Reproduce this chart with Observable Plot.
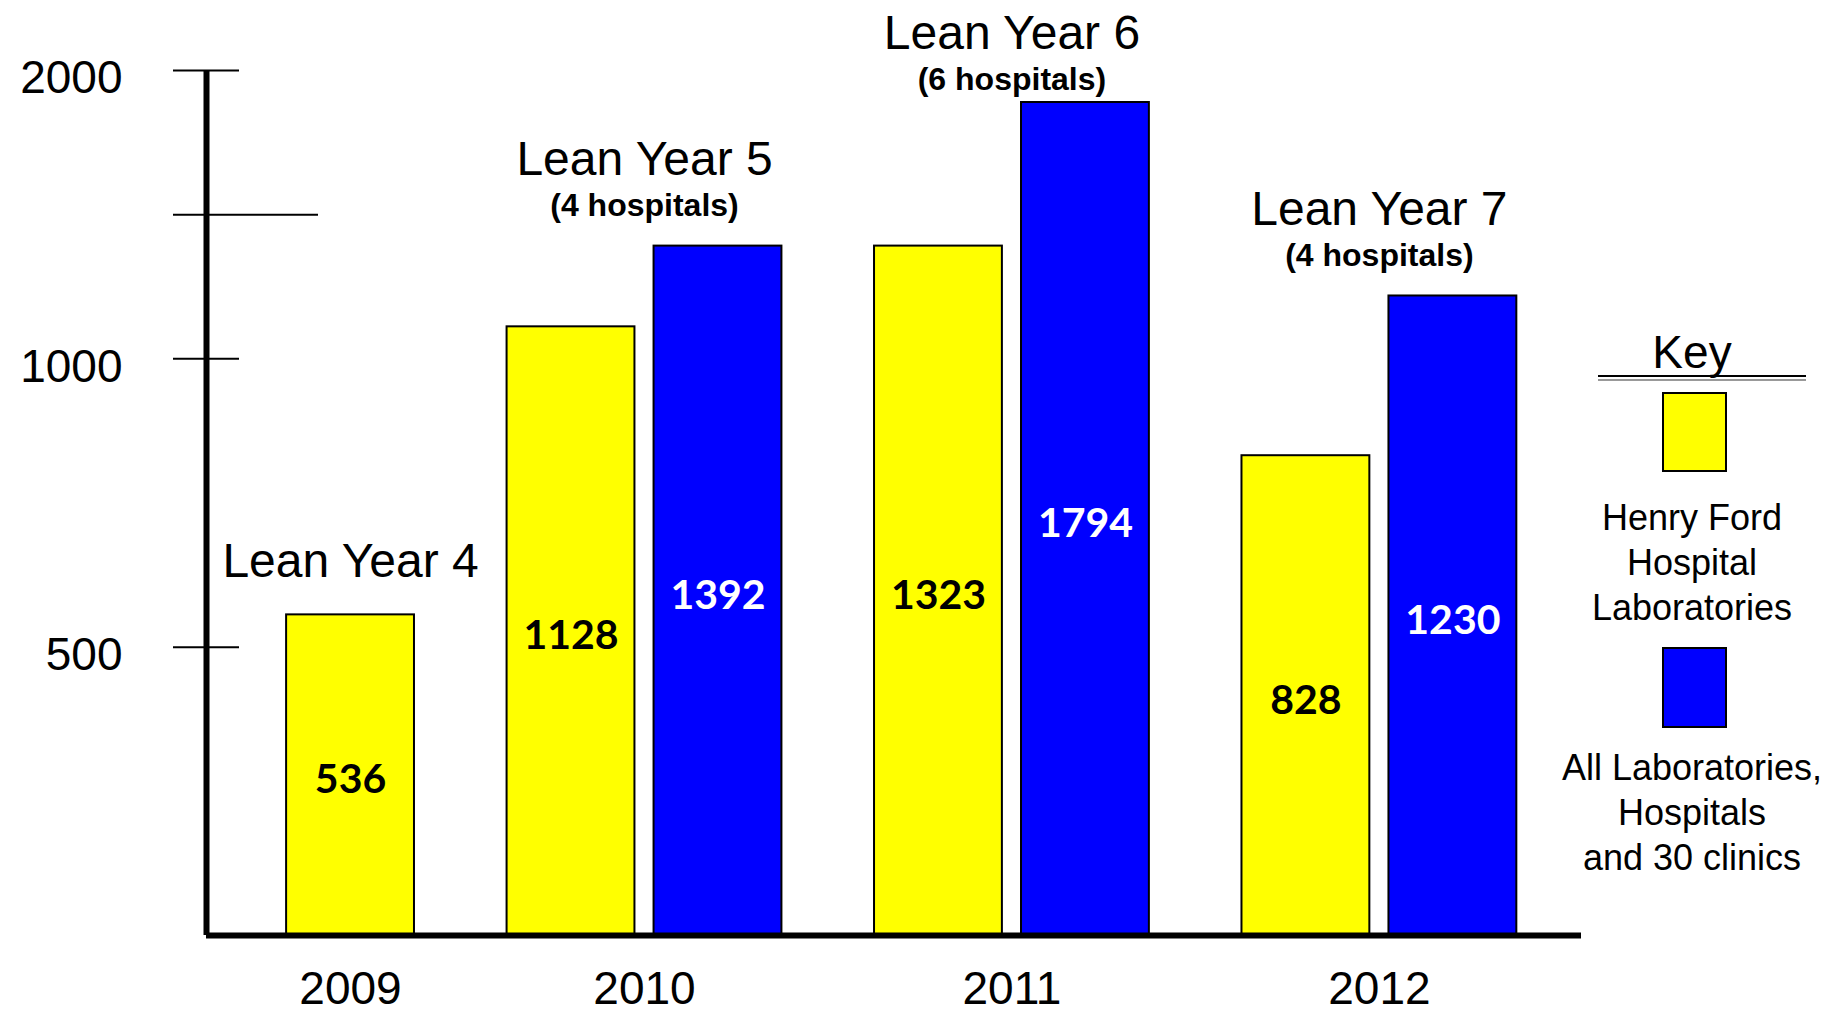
<!DOCTYPE html>
<html>
<head>
<meta charset="utf-8">
<script src="https://cdn.jsdelivr.net/npm/d3@7"></script>
<script src="https://cdn.jsdelivr.net/npm/@observablehq/plot@0.6"></script>
<style>
  html, body { margin: 0; padding: 0; background: #fff; }
  #wrap { position: relative; width: 1826px; height: 1015px; overflow: hidden;
          font-family: "Liberation Sans", Arial, sans-serif; color: #000; }
  #chart { position: absolute; left: 0; top: 0; }
  #legend { position: absolute; left: 1544px; top: 0; width: 280px; height: 1015px; }
  #legend .txt { position: absolute; left: 148px; transform: translateX(-50%); text-align: center; white-space: nowrap; }
  #legend .key { top: 329px; font-size: 46px; line-height: 46px; }
  #legend .rule { position: absolute; left: 54px; width: 208px; height: 2px; }
  #legend .swatch { position: absolute; left: 118px; width: 65px; box-sizing: border-box; border: 2px solid #000; }
  #legend .lab { font-size: 36px; line-height: 45px; }
</style>
</head>
<body>
<div id="wrap">
  <div id="chart"></div>
  <div id="legend"></div>
</div>
<script>
// ---- data ----
const years = ["2009", "2010", "2011", "2012"];
const leanYears = ["Lean Year 4", "Lean Year 5", "Lean Year 6", "Lean Year 7"];
const hospitalNotes = [null, "(4 hospitals)", "(6 hospitals)", "(4 hospitals)"];
const seriesNames = ["Henry Ford Hospital Laboratories", "All Laboratories, Hospitals and 30 clinics"];
const seriesLegendLines = [["Henry Ford", "Hospital", "Laboratories"], ["All Laboratories,", "Hospitals", "and 30 clinics"]];
const seriesColors = ["#ffff00", "#0000ff"];
// printed values on the bars
const henryFordValues = [536, 1128, 1323, 828];
const allLabsValues = [null, 1392, 1794, 1230];
// bar heights as drawn against the (piecewise) value axis
const henryFordHeights = [556, 1111, 1391, 832];
const allLabsHeights = [null, 1391, 1889, 1218];
const yTickLabels = [500, 1000, 2000];
const yExtraTicks = [1500];

// ---- layout ----
const W = 1826, H = 1015;
const marginLeft = 206, marginRight = 245, marginTop = 70, marginBottom = 80;
const frameW = W - marginLeft - marginRight;
const yBottom = H - marginBottom, yTop = marginTop;
const yDomain = [0, 1000, 2000];
const yRange = [yBottom, yBottom - (yBottom - yTop) * 2 / 3, yTop];
const xDomain = [-1.96, 16.75];
const halfBar = 0.87;
const annotationCeiling = 1830;
const FONT = "Liberation Sans, Arial, sans-serif";

const yScale = Plot.scale({y: {type: "linear", domain: yDomain, range: yRange}});

// build bars: bars within a year sit 2 slots apart, years 3 slots apart
const bars = [];
const groups = [];
let slot = 0;
years.forEach((year, i) => {
  const series = [
    {s: 0, label: henryFordValues[i], h: henryFordHeights[i]},
    {s: 1, label: allLabsValues[i], h: allLabsHeights[i]}
  ].filter(d => d.label != null);
  const slots = [];
  series.forEach((d, j) => {
    if (j > 0) slot += 2;
    slots.push(slot);
    const mid = yScale.invert((yScale.apply(0) + yScale.apply(d.h)) / 2);
    bars.push({year, series: seriesNames[d.s], s: d.s, label: d.label, h: d.h, slot, mid});
  });
  const center = d3.mean(slots);
  const top = d3.max(series, d => d.h);
  groups.push({year, center, top, anchor: Math.min(top, annotationCeiling), lean: leanYears[i], note: hospitalNotes[i]});
  slot += 3;
});

const chart = Plot.plot({
  width: W,
  height: H,
  marginLeft, marginRight, marginTop, marginBottom,
  style: {fontFamily: FONT, fontSize: "46px", background: "#fff", color: "#000", overflow: "visible"},
  x: {type: "linear", domain: xDomain, axis: null},
  y: {type: "linear", domain: yDomain, range: yRange, axis: null},
  color: {domain: seriesNames, range: seriesColors},
  marks: [
    Plot.rect(bars, {
      x1: d => d.slot - halfBar, x2: d => d.slot + halfBar,
      y1: () => 0, y2: "h",
      fill: "series", stroke: "#000", strokeWidth: 2
    }),
    // value labels
    Plot.text(bars.filter(d => d.s === 0), {
      x: "slot", y: "mid", text: d => String(d.label), dy: 5,
      fill: "#000", fontFamily: "Lato, Noto Sans, sans-serif", fontWeight: 700, fontSize: 41
    }),
    Plot.text(bars.filter(d => d.s === 1), {
      x: "slot", y: "mid", text: d => String(d.label), dy: 5,
      fill: "#fff", fontFamily: "Lato, Noto Sans, sans-serif", fontWeight: 700, fontSize: 41
    }),
    // axes
    Plot.ruleY([0], {strokeWidth: 6, stroke: "#000"}),
    Plot.ruleX([xDomain[0]], {strokeWidth: 6, stroke: "#000"}),
    Plot.ruleY(yTickLabels, {insetLeft: -33, insetRight: frameW - 33, strokeWidth: 2, stroke: "#000"}),
    Plot.ruleY(yExtraTicks, {insetLeft: -33, insetRight: frameW - 112, strokeWidth: 2, stroke: "#000"}),
    Plot.axisY(yTickLabels, {tickSize: 0, tickPadding: 84, fontSize: 46, dy: 8, tickFormat: d => String(d)}),
    Plot.text(groups, {
      x: "center", frameAnchor: "bottom", lineAnchor: "top", dy: 36,
      text: "year", fontSize: 46, fill: "#000"
    }),
    // annotations
    Plot.text(groups.filter(d => d.note), {
      x: "center", y: "anchor", text: "lean", lineAnchor: "bottom", dy: -71, fontSize: 48, fill: "#000"
    }),
    Plot.text(groups.filter(d => d.note), {
      x: "center", y: "anchor", text: "note", lineAnchor: "bottom", dy: -30, fontSize: 32, fontWeight: "bold", fill: "#000"
    }),
    Plot.text(groups.filter(d => !d.note), {
      x: "center", y: "anchor", text: "lean", lineAnchor: "bottom", dy: -38, fontSize: 48, fill: "#000"
    })
  ]
});
document.getElementById("chart").appendChild(chart);

// ---- key ----
const legend = document.getElementById("legend");
function add(cls, styles, text) {
  const el = document.createElement("div");
  el.className = cls;
  Object.assign(el.style, styles);
  if (text != null) el.innerHTML = text;
  legend.appendChild(el);
}
add("txt key", {}, "Key");
add("rule", {top: "375px", background: "#000"});
add("rule", {top: "379px", background: "#999"});
const swatchTops = [392, 647];
const swatchHeights = [80, 81];
const textTops = [494.5, 744.5];
seriesNames.forEach((name, i) => {
  add("swatch", {top: swatchTops[i] + "px", height: swatchHeights[i] + "px", background: seriesColors[i]});
  add("txt lab", {top: textTops[i] + "px"}, seriesLegendLines[i].join("<br>"));
});
</script>
</body>
</html>
